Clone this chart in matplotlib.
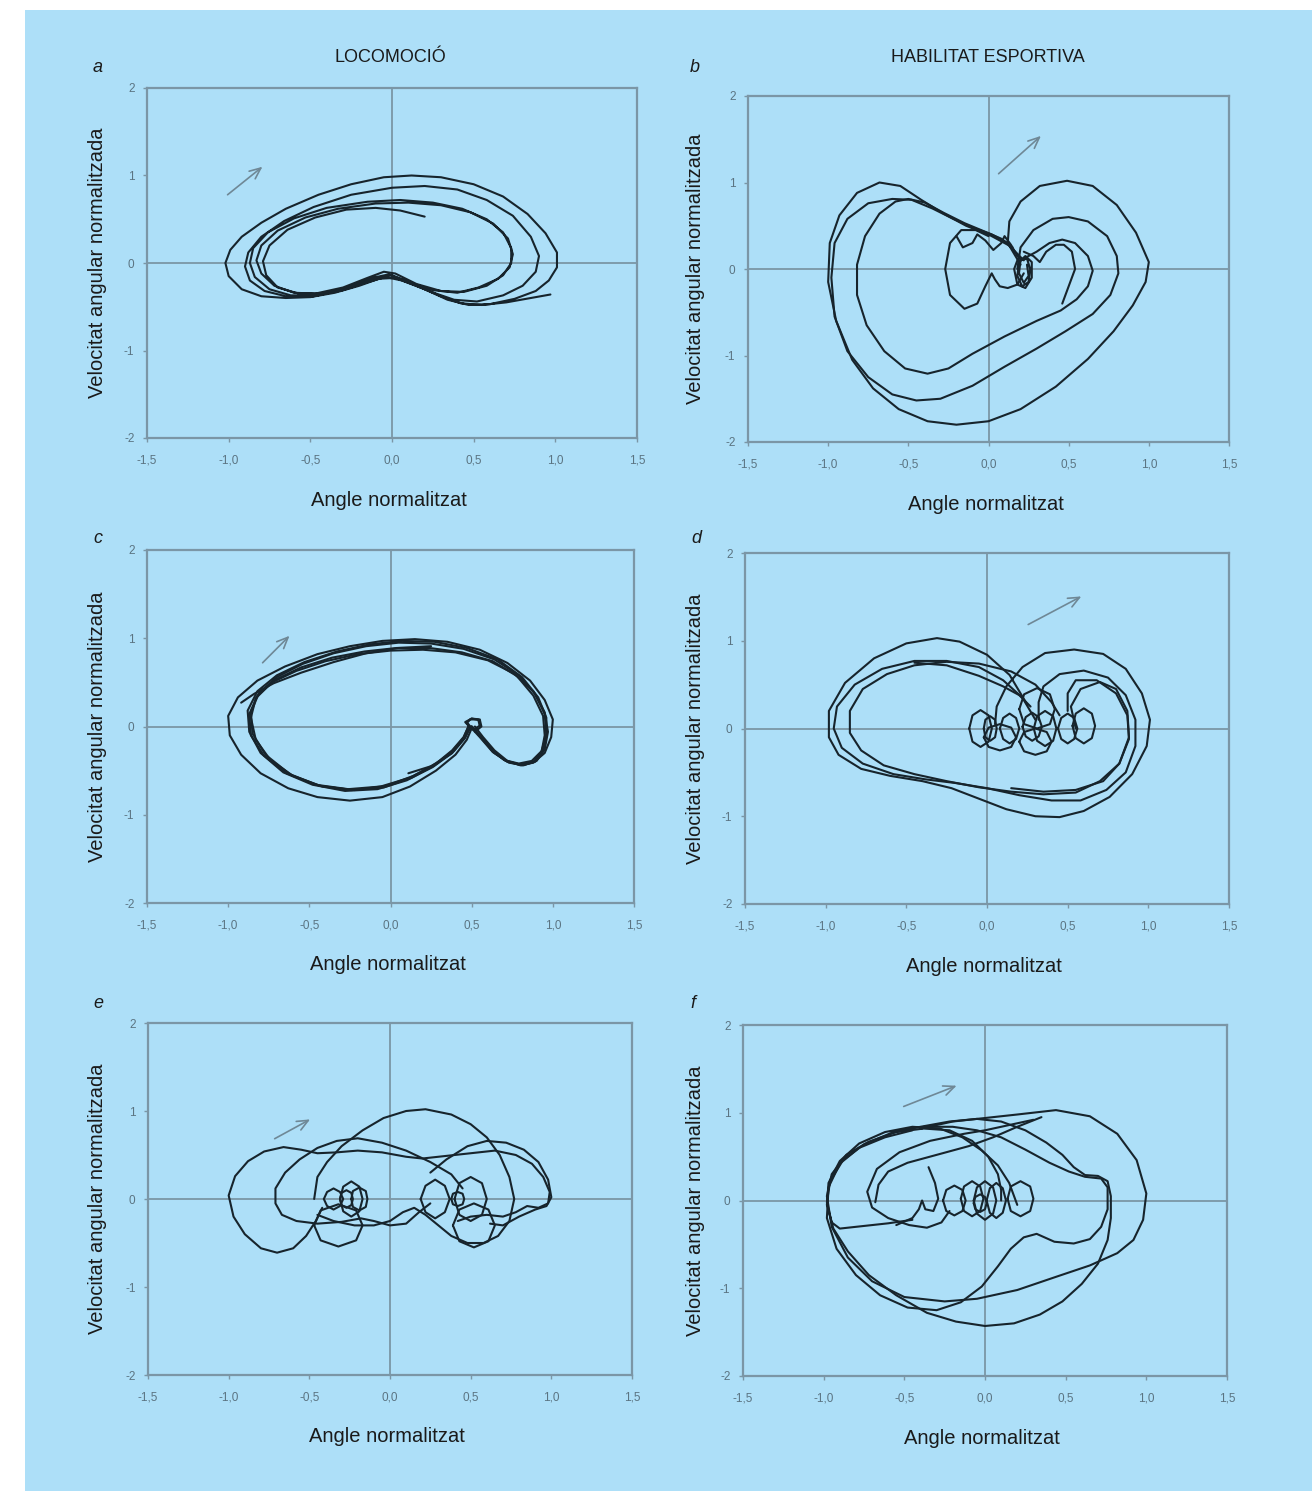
import numpy as np
import matplotlib
matplotlib.use('Agg')
import matplotlib.pyplot as plt
from matplotlib.patches import Rectangle

# Diagrames de fase: angle normalitzat vs velocitat angular normalitzada
# Cada panell es una llista de traces (llistes de punts (x, y)) llegides de la figura

# a) locomocio
traces_a = [
    [(0.97, -0.36), (0.85, -0.40), (0.7, -0.45), (0.55, -0.48), (0.42, -0.46), (0.3, -0.38), (0.15, -0.26),
     (0.02, -0.17), (-0.08, -0.18), (-0.2, -0.26), (-0.35, -0.34), (-0.5, -0.39), (-0.65, -0.40), (-0.8, -0.38),
     (-0.92, -0.3), (-1.0, -0.15), (-1.02, 0.0), (-0.99, 0.15), (-0.92, 0.3), (-0.8, 0.46), (-0.65, 0.62),
     (-0.45, 0.78), (-0.25, 0.9), (-0.05, 0.98), (0.12, 1.0), (0.3, 0.98), (0.5, 0.9), (0.68, 0.76), (0.83, 0.56),
     (0.94, 0.34), (1.01, 0.12), (1.01, -0.05), (0.96, -0.2), (0.88, -0.32), (0.75, -0.41), (0.6, -0.47),
     (0.47, -0.48), (0.34, -0.42), (0.2, -0.3), (0.06, -0.2), (-0.04, -0.16), (-0.15, -0.22), (-0.3, -0.31),
     (-0.48, -0.38), (-0.65, -0.38), (-0.78, -0.32), (-0.87, -0.2), (-0.9, -0.04), (-0.88, 0.12), (-0.8, 0.3),
     (-0.66, 0.48), (-0.48, 0.64), (-0.25, 0.78), (0.0, 0.86), (0.2, 0.88), (0.4, 0.84), (0.58, 0.72),
     (0.74, 0.54), (0.85, 0.3), (0.9, 0.08), (0.88, -0.1), (0.8, -0.26), (0.68, -0.37), (0.52, -0.44),
     (0.38, -0.42), (0.24, -0.33), (0.1, -0.22), (-0.02, -0.13), (-0.12, -0.17), (-0.28, -0.29), (-0.46, -0.37),
     (-0.62, -0.37), (-0.75, -0.3), (-0.84, -0.16), (-0.87, 0.0), (-0.85, 0.17), (-0.76, 0.35), (-0.6, 0.51),
     (-0.4, 0.63), (-0.15, 0.7), (0.05, 0.72), (0.25, 0.69), (0.43, 0.62), (0.58, 0.5), (0.68, 0.35),
     (0.73, 0.17), (0.73, 0.0), (0.68, -0.14), (0.58, -0.26), (0.44, -0.33), (0.3, -0.32), (0.15, -0.24),
     (0.02, -0.12), (-0.05, -0.1), (-0.15, -0.17), (-0.3, -0.28), (-0.47, -0.35), (-0.6, -0.34), (-0.72, -0.26),
     (-0.8, -0.12), (-0.83, 0.03), (-0.8, 0.2), (-0.7, 0.37), (-0.53, 0.52), (-0.33, 0.62), (-0.1, 0.68),
     (0.1, 0.69), (0.3, 0.66), (0.48, 0.58), (0.62, 0.45), (0.71, 0.28), (0.74, 0.1), (0.72, -0.05),
     (0.65, -0.18), (0.53, -0.28), (0.4, -0.34), (0.25, -0.31), (0.12, -0.23), (0.0, -0.14), (-0.1, -0.17),
     (-0.25, -0.27), (-0.42, -0.35), (-0.57, -0.35), (-0.7, -0.28), (-0.77, -0.14), (-0.79, 0.02), (-0.75, 0.2),
     (-0.64, 0.38), (-0.47, 0.52), (-0.28, 0.61), (-0.1, 0.63), (0.05, 0.6), (0.2, 0.53)],
]

# b) habilitat esportiva
traces_b = [
    [(0.2, 0.05), (0.12, 0.3), (0.13, 0.55), (0.2, 0.78), (0.32, 0.96), (0.49, 1.02), (0.65, 0.96), (0.8, 0.74),
     (0.92, 0.42), (1.0, 0.08), (0.98, -0.15), (0.9, -0.42), (0.78, -0.72), (0.62, -1.04), (0.42, -1.36),
     (0.2, -1.62), (0.0, -1.76), (-0.2, -1.8), (-0.38, -1.76), (-0.56, -1.62), (-0.72, -1.38), (-0.85, -1.05),
     (-0.95, -0.6), (-1.0, -0.15), (-0.99, 0.3), (-0.93, 0.62), (-0.82, 0.88), (-0.68, 1.0), (-0.55, 0.96),
     (-0.42, 0.8), (-0.28, 0.64), (-0.14, 0.5), (0.01, 0.39), (0.13, 0.27), (0.22, 0.1)],
    [(0.18, 0.0), (0.2, 0.25), (0.28, 0.45), (0.4, 0.58), (0.5, 0.6), (0.62, 0.55), (0.74, 0.38), (0.8, 0.15),
     (0.81, -0.05), (0.76, -0.3), (0.65, -0.52), (0.48, -0.72), (0.3, -0.92), (0.1, -1.13), (-0.1, -1.35),
     (-0.3, -1.5), (-0.45, -1.52), (-0.6, -1.45), (-0.75, -1.25), (-0.88, -0.95), (-0.96, -0.55), (-0.98, -0.1),
     (-0.96, 0.3), (-0.88, 0.58), (-0.75, 0.76), (-0.6, 0.81), (-0.48, 0.8), (-0.35, 0.7), (-0.22, 0.58),
     (-0.1, 0.48), (0.02, 0.4), (0.12, 0.3), (0.2, 0.12)],
    [(0.2, 0.1), (0.3, 0.2), (0.38, 0.3), (0.46, 0.34), (0.54, 0.3), (0.62, 0.15), (0.65, -0.02), (0.62, -0.2),
     (0.55, -0.35), (0.45, -0.48), (0.3, -0.6), (0.1, -0.78), (-0.1, -0.98), (-0.25, -1.15), (-0.38, -1.21),
     (-0.52, -1.15), (-0.65, -0.95), (-0.76, -0.65), (-0.82, -0.3), (-0.82, 0.05), (-0.77, 0.38), (-0.68, 0.64),
     (-0.58, 0.78), (-0.5, 0.81), (-0.4, 0.77), (-0.28, 0.65), (-0.15, 0.53), (-0.02, 0.43), (0.08, 0.35),
     (0.15, 0.25)],
    [(0.46, -0.4), (0.5, -0.2), (0.54, 0.0), (0.52, 0.2), (0.47, 0.28), (0.42, 0.28), (0.36, 0.2), (0.32, 0.08),
     (0.28, 0.15), (0.22, 0.2)],
    [(0.0, 0.38), (-0.08, 0.45), (-0.17, 0.45), (-0.24, 0.3), (-0.27, 0.0), (-0.24, -0.3), (-0.15, -0.46),
     (-0.07, -0.4), (-0.02, -0.2), (0.02, -0.05), (0.04, -0.12), (0.07, -0.2), (0.12, -0.22), (0.18, -0.18),
     (0.22, -0.05)],
    [(-0.2, 0.38), (-0.16, 0.25), (-0.1, 0.3), (-0.07, 0.4), (-0.02, 0.33), (0.03, 0.22), (0.08, 0.3),
     (0.1, 0.38), (0.14, 0.28), (0.18, 0.15)],
    [(0.19, 0.15), (0.16, 0.0), (0.18, -0.18), (0.23, -0.22), (0.27, -0.1), (0.27, 0.08), (0.23, 0.15),
     (0.19, 0.08), (0.18, -0.08), (0.21, -0.2), (0.25, -0.15), (0.26, 0.0), (0.24, 0.12), (0.2, 0.1),
     (0.19, -0.05), (0.22, -0.16), (0.25, -0.08), (0.24, 0.05)],
]

# c) locomocio
traces_c = [
    [(0.52, 0.0), (0.57, -0.12), (0.64, -0.27), (0.72, -0.39), (0.8, -0.44), (0.88, -0.41), (0.95, -0.3),
     (0.99, -0.12), (1.0, 0.08), (0.95, 0.3), (0.86, 0.52), (0.72, 0.72), (0.55, 0.87), (0.35, 0.96), (0.15, 0.99),
     (-0.05, 0.97), (-0.25, 0.91), (-0.45, 0.82), (-0.65, 0.68), (-0.82, 0.52), (-0.94, 0.33), (-1.0, 0.12),
     (-0.99, -0.1), (-0.92, -0.32), (-0.8, -0.53), (-0.63, -0.7), (-0.45, -0.8), (-0.25, -0.84), (-0.05, -0.8),
     (0.12, -0.68), (0.28, -0.5), (0.4, -0.32), (0.47, -0.15), (0.5, -0.02), (0.47, 0.05), (0.5, 0.09),
     (0.55, 0.08), (0.56, 0.0), (0.52, -0.06)],
    [(0.5, 0.0), (0.55, -0.11), (0.62, -0.26), (0.7, -0.38), (0.79, -0.42), (0.87, -0.39), (0.93, -0.28),
     (0.96, -0.1), (0.96, 0.1), (0.91, 0.33), (0.81, 0.56), (0.66, 0.76), (0.47, 0.89), (0.27, 0.96), (0.07, 0.97),
     (-0.13, 0.93), (-0.33, 0.85), (-0.53, 0.73), (-0.7, 0.58), (-0.82, 0.4), (-0.88, 0.18), (-0.87, -0.06),
     (-0.8, -0.3), (-0.66, -0.52), (-0.48, -0.66), (-0.28, -0.73), (-0.08, -0.71), (0.1, -0.61), (0.26, -0.46),
     (0.38, -0.3), (0.45, -0.14), (0.49, -0.02), (0.47, 0.04), (0.49, 0.08), (0.54, 0.08), (0.55, 0.01),
     (0.51, -0.04)],
    [(0.5, 0.0), (0.56, -0.12), (0.63, -0.28), (0.71, -0.39), (0.8, -0.43), (0.88, -0.4), (0.93, -0.29),
     (0.95, -0.1), (0.94, 0.12), (0.88, 0.35), (0.78, 0.57), (0.63, 0.74), (0.44, 0.84), (0.24, 0.89), (0.04, 0.89),
     (-0.16, 0.85), (-0.36, 0.78), (-0.55, 0.67), (-0.71, 0.53), (-0.82, 0.35), (-0.87, 0.14), (-0.86, -0.1),
     (-0.78, -0.33), (-0.64, -0.53), (-0.46, -0.66), (-0.26, -0.71), (-0.06, -0.68), (0.12, -0.58), (0.27, -0.44),
     (0.39, -0.28), (0.46, -0.13), (0.49, -0.01), (0.46, 0.05), (0.5, 0.09), (0.55, 0.07), (0.55, 0.0)],
    [(0.5, 0.0), (0.56, -0.13), (0.64, -0.3), (0.73, -0.41), (0.82, -0.44), (0.9, -0.39), (0.95, -0.26),
     (0.97, -0.06), (0.95, 0.16), (0.88, 0.4), (0.76, 0.6), (0.6, 0.75), (0.4, 0.84), (0.2, 0.87), (0.0, 0.86),
     (-0.2, 0.82), (-0.4, 0.74), (-0.58, 0.63), (-0.73, 0.5), (-0.83, 0.32), (-0.86, 0.1), (-0.83, -0.15),
     (-0.74, -0.38), (-0.6, -0.56), (-0.42, -0.68), (-0.22, -0.72), (-0.02, -0.67), (0.14, -0.56), (0.28, -0.42),
     (0.38, -0.27), (0.45, -0.12), (0.48, 0.0)],
    [(0.49, 0.0), (0.55, -0.12), (0.63, -0.29), (0.72, -0.4), (0.81, -0.44), (0.89, -0.4), (0.94, -0.28),
     (0.96, -0.08), (0.95, 0.14), (0.89, 0.37), (0.79, 0.58), (0.64, 0.76), (0.45, 0.88), (0.25, 0.94),
     (0.05, 0.95), (-0.15, 0.91), (-0.35, 0.83), (-0.54, 0.71), (-0.7, 0.56), (-0.81, 0.38), (-0.86, 0.16),
     (-0.85, -0.08), (-0.77, -0.32), (-0.62, -0.54), (-0.44, -0.67), (-0.24, -0.72), (-0.04, -0.69),
     (0.13, -0.58), (0.27, -0.44), (0.38, -0.28), (0.45, -0.13), (0.48, 0.0)],
    [(-0.92, 0.27), (-0.84, 0.37), (-0.72, 0.49), (-0.55, 0.61), (-0.35, 0.73), (-0.15, 0.83), (0.05, 0.89),
     (0.25, 0.91)],
    [(0.11, -0.53), (0.25, -0.45), (0.38, -0.3)],
]

# d) habilitat esportiva
traces_d = [
    [(0.25, 0.27), (0.14, 0.61), (0.0, 0.84), (-0.17, 0.99), (-0.31, 1.03), (-0.5, 0.97), (-0.7, 0.8),
     (-0.88, 0.52), (-0.98, 0.2), (-0.98, -0.1), (-0.92, -0.3), (-0.78, -0.46), (-0.6, -0.54), (-0.4, -0.6),
     (-0.22, -0.68), (-0.05, -0.8), (0.12, -0.92), (0.3, -1.0), (0.45, -1.01), (0.6, -0.94), (0.76, -0.78),
     (0.9, -0.52), (0.99, -0.2), (1.01, 0.1), (0.96, 0.4), (0.86, 0.68), (0.72, 0.85), (0.54, 0.9), (0.36, 0.86),
     (0.22, 0.7), (0.12, 0.48), (0.06, 0.25), (0.05, 0.05)],
    [(0.3, 0.1), (0.22, 0.35), (0.1, 0.55), (-0.05, 0.7), (-0.25, 0.77), (-0.45, 0.77), (-0.65, 0.68),
     (-0.82, 0.5), (-0.93, 0.25), (-0.95, 0.0), (-0.9, -0.22), (-0.77, -0.4), (-0.58, -0.52), (-0.38, -0.58),
     (-0.2, -0.62), (0.0, -0.68), (0.2, -0.76), (0.4, -0.82), (0.58, -0.82), (0.74, -0.7), (0.86, -0.5),
     (0.92, -0.2), (0.92, 0.1), (0.86, 0.38), (0.75, 0.58), (0.6, 0.66), (0.45, 0.62), (0.35, 0.48), (0.32, 0.3),
     (0.32, 0.1)],
    [(0.45, 0.15), (0.4, 0.3), (0.3, 0.5), (0.15, 0.65), (-0.05, 0.74), (-0.25, 0.76), (-0.45, 0.72),
     (-0.62, 0.62), (-0.77, 0.45), (-0.85, 0.2), (-0.85, -0.05), (-0.78, -0.25), (-0.64, -0.42), (-0.45, -0.52),
     (-0.25, -0.6), (-0.05, -0.67), (0.15, -0.72), (0.35, -0.75), (0.55, -0.73), (0.7, -0.6), (0.82, -0.4),
     (0.88, -0.12), (0.87, 0.15), (0.8, 0.4), (0.68, 0.55), (0.55, 0.55), (0.5, 0.4), (0.5, 0.2)],
    [(0.55, 0.0), (0.52, 0.25), (0.58, 0.45), (0.7, 0.53), (0.8, 0.45), (0.87, 0.2), (0.88, -0.1), (0.82, -0.4),
     (0.72, -0.6), (0.55, -0.7), (0.35, -0.72), (0.15, -0.68)],
    [(-0.45, 0.75), (-0.25, 0.72), (-0.05, 0.6), (0.1, 0.48), (0.2, 0.38), (0.27, 0.25)],
    [(-0.11, 0.0), (-0.09, 0.15), (-0.04, 0.21), (0.01, 0.15), (0.03, 0.0), (0.01, -0.15), (-0.04, -0.21),
     (-0.09, -0.15), (-0.11, 0.0)],
    [(-0.02, 0.0), (-0.01, 0.1), (0.02, 0.14), (0.05, 0.1), (0.06, 0.0), (0.05, -0.1), (0.02, -0.14),
     (-0.01, -0.1), (-0.02, 0.0)],
    [(0.08, 0.0), (0.1, 0.12), (0.14, 0.17), (0.18, 0.12), (0.2, 0.0), (0.18, -0.12), (0.14, -0.17),
     (0.1, -0.12), (0.08, 0.0)],
    [(0.22, 0.02), (0.24, 0.13), (0.28, 0.18), (0.32, 0.13), (0.34, 0.02), (0.32, -0.09), (0.28, -0.14),
     (0.24, -0.09), (0.22, 0.02)],
    [(0.29, 0.0), (0.31, 0.14), (0.36, 0.2), (0.41, 0.14), (0.43, 0.0), (0.41, -0.14), (0.36, -0.2),
     (0.31, -0.14), (0.29, 0.0)],
    [(0.44, 0.0), (0.46, 0.12), (0.5, 0.17), (0.54, 0.12), (0.56, 0.0), (0.54, -0.12), (0.5, -0.17),
     (0.46, -0.12), (0.44, 0.0)],
    [(0.53, 0.03), (0.55, 0.17), (0.6, 0.23), (0.65, 0.17), (0.67, 0.03), (0.65, -0.11), (0.6, -0.17),
     (0.55, -0.11), (0.53, 0.03)],
    [(0.2, -0.15), (0.23, -0.04), (0.3, 0.0), (0.37, -0.04), (0.4, -0.15), (0.37, -0.26), (0.3, -0.3),
     (0.23, -0.26), (0.2, -0.15)],
    [(0.2, 0.22), (0.23, 0.39), (0.31, 0.46), (0.39, 0.39), (0.42, 0.22), (0.39, 0.05), (0.31, 0.0),
     (0.23, 0.05), (0.2, 0.22)],
    [(-0.02, -0.1), (0.01, 0.01), (0.08, 0.05), (0.15, 0.01), (0.18, -0.1), (0.15, -0.21), (0.08, -0.25),
     (0.01, -0.21), (-0.02, -0.1)],
]

# e) locomocio
traces_e = [
    [(-0.47, 0.0), (-0.45, 0.25), (-0.39, 0.42), (-0.3, 0.6), (-0.17, 0.78), (-0.04, 0.92), (0.1, 1.0),
     (0.22, 1.02), (0.38, 0.96), (0.5, 0.85), (0.6, 0.7), (0.68, 0.5), (0.74, 0.25), (0.77, 0.0), (0.74, -0.25),
     (0.67, -0.42), (0.58, -0.5), (0.48, -0.5), (0.38, -0.42), (0.3, -0.3), (0.22, -0.18), (0.15, -0.1),
     (0.08, -0.15), (0.0, -0.25), (-0.1, -0.3), (-0.22, -0.3), (-0.35, -0.25), (-0.45, -0.18)],
    [(-0.42, -0.1), (-0.46, -0.25), (-0.52, -0.42), (-0.6, -0.56), (-0.7, -0.61), (-0.8, -0.56), (-0.9, -0.4),
     (-0.97, -0.2), (-1.0, 0.04), (-0.96, 0.26), (-0.88, 0.43), (-0.78, 0.54), (-0.66, 0.59), (-0.55, 0.56),
     (-0.45, 0.52), (-0.33, 0.53), (-0.2, 0.55), (-0.05, 0.53), (0.1, 0.48), (0.2, 0.46), (0.35, 0.49),
     (0.5, 0.52), (0.65, 0.55), (0.78, 0.5), (0.88, 0.4), (0.95, 0.25), (0.99, 0.08), (0.98, -0.05),
     (0.92, -0.1), (0.85, -0.08), (0.78, -0.15), (0.7, -0.2), (0.6, -0.18), (0.5, -0.2), (0.42, -0.25)],
    [(0.45, 0.12), (0.38, 0.28), (0.25, 0.42), (0.1, 0.55), (-0.05, 0.64), (-0.2, 0.69), (-0.33, 0.66),
     (-0.45, 0.58), (-0.56, 0.45), (-0.65, 0.3), (-0.71, 0.12), (-0.71, -0.05), (-0.67, -0.18), (-0.58, -0.25),
     (-0.45, -0.28), (-0.3, -0.26), (-0.18, -0.22), (-0.1, -0.25), (0.0, -0.3), (0.1, -0.28), (0.18, -0.15),
     (0.25, -0.05)],
    [(0.25, 0.3), (0.35, 0.45), (0.48, 0.6), (0.6, 0.66), (0.72, 0.64), (0.83, 0.56), (0.92, 0.42), (0.98, 0.22),
     (1.0, 0.02), (0.97, -0.08), (0.9, -0.12), (0.8, -0.2), (0.7, -0.3), (0.62, -0.28)],
    [(-0.41, 0.0), (-0.39, 0.08), (-0.35, 0.12), (-0.31, 0.08), (-0.29, 0.0), (-0.31, -0.08), (-0.35, -0.12),
     (-0.39, -0.08), (-0.41, 0.0)],
    [(-0.31, 0.0), (-0.29, 0.14), (-0.24, 0.2), (-0.19, 0.14), (-0.17, 0.0), (-0.19, -0.14), (-0.24, -0.2),
     (-0.29, -0.14), (-0.31, 0.0)],
    [(-0.24, 0.0), (-0.23, 0.09), (-0.19, 0.13), (-0.15, 0.09), (-0.14, 0.0), (-0.15, -0.09), (-0.19, -0.13),
     (-0.23, -0.09), (-0.24, 0.0)],
    [(-0.31, 0.0), (-0.3, 0.07), (-0.27, 0.1), (-0.24, 0.07), (-0.23, 0.0), (-0.24, -0.07), (-0.27, -0.1),
     (-0.3, -0.07), (-0.31, 0.0)],
    [(-0.47, -0.3), (-0.43, -0.13), (-0.32, -0.06), (-0.21, -0.13), (-0.17, -0.3), (-0.21, -0.47), (-0.32, -0.54),
     (-0.43, -0.47), (-0.47, -0.3)],
    [(0.19, 0.0), (0.22, 0.15), (0.28, 0.22), (0.34, 0.15), (0.37, 0.0), (0.34, -0.15), (0.28, -0.22),
     (0.22, -0.15), (0.19, 0.0)],
    [(0.4, 0.0), (0.43, 0.18), (0.5, 0.25), (0.57, 0.18), (0.6, 0.0), (0.57, -0.18), (0.5, -0.25), (0.43, -0.18),
     (0.4, 0.0)],
    [(0.38, 0.0), (0.39, 0.06), (0.42, 0.08), (0.45, 0.06), (0.46, 0.0), (0.45, -0.06), (0.42, -0.08),
     (0.39, -0.06), (0.38, 0.0)],
    [(0.39, -0.3), (0.43, -0.12), (0.52, -0.05), (0.61, -0.12), (0.65, -0.3), (0.61, -0.48), (0.52, -0.55),
     (0.43, -0.48), (0.39, -0.3)],
]

# f) habilitat esportiva
traces_f = [
    [(0.2, -0.05), (0.15, 0.2), (0.08, 0.4), (-0.02, 0.57), (-0.14, 0.72), (-0.28, 0.82), (-0.45, 0.84),
     (-0.62, 0.78), (-0.78, 0.65), (-0.9, 0.45), (-0.97, 0.2), (-0.98, -0.05), (-0.94, -0.32), (-0.85, -0.58),
     (-0.72, -0.85), (-0.55, -1.08), (-0.36, -1.28), (-0.18, -1.38), (0.0, -1.43), (0.18, -1.4), (0.34, -1.3),
     (0.48, -1.15), (0.6, -0.95), (0.7, -0.72), (0.76, -0.45), (0.78, -0.2), (0.78, 0.05), (0.76, 0.22),
     (0.7, 0.28), (0.62, 0.29), (0.55, 0.38), (0.48, 0.52), (0.38, 0.66), (0.25, 0.8), (0.1, 0.9), (-0.05, 0.93),
     (-0.22, 0.9), (-0.4, 0.84), (-0.58, 0.77), (-0.75, 0.64), (-0.88, 0.46), (-0.96, 0.22), (-0.98, -0.02),
     (-0.95, -0.25), (-0.9, -0.32), (-0.75, -0.29), (-0.6, -0.26), (-0.45, -0.22)],
    [(-0.4, 0.82), (-0.2, 0.9), (0.0, 0.94), (0.2, 0.98), (0.44, 1.03), (0.65, 0.96), (0.82, 0.76), (0.94, 0.46),
     (1.0, 0.08), (0.98, -0.22), (0.92, -0.45), (0.82, -0.6), (0.65, -0.74), (0.44, -0.87), (0.2, -1.02),
     (-0.05, -1.12), (-0.25, -1.15), (-0.5, -1.1), (-0.7, -0.92), (-0.85, -0.65), (-0.95, -0.3), (-0.98, 0.05),
     (-0.95, 0.3), (-0.86, 0.52), (-0.72, 0.67), (-0.55, 0.78), (-0.38, 0.82), (-0.22, 0.8), (-0.08, 0.68),
     (0.02, 0.5), (0.08, 0.3), (0.1, 0.12), (0.1, 0.0)],
    [(-0.38, 0.84), (-0.2, 0.84), (-0.05, 0.8), (0.1, 0.72), (0.25, 0.58), (0.4, 0.43), (0.52, 0.33),
     (0.62, 0.27), (0.72, 0.25), (0.76, 0.15), (0.76, -0.1), (0.72, -0.3), (0.65, -0.44), (0.55, -0.49),
     (0.43, -0.47), (0.32, -0.38), (0.24, -0.42), (0.16, -0.55), (0.08, -0.75), (-0.02, -0.98), (-0.15, -1.16),
     (-0.3, -1.25), (-0.48, -1.22), (-0.65, -1.08), (-0.8, -0.85), (-0.92, -0.55), (-0.98, -0.2), (-0.97, 0.15),
     (-0.9, 0.42), (-0.78, 0.6), (-0.62, 0.72), (-0.45, 0.8)],
    [(0.3, 0.92), (0.15, 0.86), (0.0, 0.8), (-0.13, 0.76), (-0.34, 0.68), (-0.53, 0.55), (-0.67, 0.36),
     (-0.73, 0.1), (-0.7, -0.08), (-0.6, -0.2), (-0.47, -0.28), (-0.36, -0.31), (-0.27, -0.25), (-0.22, -0.12)],
    [(-0.68, -0.02), (-0.66, 0.18), (-0.6, 0.33), (-0.48, 0.43), (-0.3, 0.52), (-0.1, 0.62), (0.05, 0.72),
     (0.2, 0.84), (0.35, 0.95)],
    [(-0.35, 0.38), (-0.31, 0.2), (-0.29, 0.02), (-0.32, -0.12), (-0.37, -0.1), (-0.39, 0.0), (-0.41, -0.1),
     (-0.45, -0.2), (-0.55, -0.28)],
    [(-0.26, 0.0), (-0.24, 0.12), (-0.19, 0.17), (-0.14, 0.12), (-0.12, 0.0), (-0.14, -0.12), (-0.19, -0.17),
     (-0.24, -0.12), (-0.26, 0.0)],
    [(-0.15, 0.02), (-0.13, 0.16), (-0.08, 0.22), (-0.03, 0.16), (-0.01, 0.02), (-0.03, -0.12), (-0.08, -0.18),
     (-0.13, -0.12), (-0.15, 0.02)],
    [(-0.07, 0.0), (-0.05, 0.15), (0.0, 0.22), (0.05, 0.15), (0.07, 0.0), (0.05, -0.15), (0.0, -0.22),
     (-0.05, -0.15), (-0.07, 0.0)],
    [(0.01, 0.0), (0.03, 0.14), (0.07, 0.2), (0.11, 0.14), (0.13, 0.0), (0.11, -0.14), (0.07, -0.2),
     (0.03, -0.14), (0.01, 0.0)],
    [(0.14, 0.02), (0.16, 0.16), (0.22, 0.22), (0.28, 0.16), (0.3, 0.02), (0.28, -0.12), (0.22, -0.18),
     (0.16, -0.12), (0.14, 0.02)],
    [(-0.07, -0.03), (-0.06, 0.04), (-0.03, 0.07), (0.0, 0.04), (0.01, -0.03), (0.0, -0.1), (-0.03, -0.13),
     (-0.06, -0.1), (-0.07, -0.03)],
]

# fletxes del sentit de gir (cua, cap)
arrows = {
    'a': ((-1.02, 0.76), (-0.78, 1.12)),
    'b': ((0.05, 1.08), (0.34, 1.56)),
    'c': ((-0.8, 0.7), (-0.61, 1.05)),
    'd': ((0.24, 1.17), (0.6, 1.52)),
    'e': ((-0.73, 0.67), (-0.48, 0.92)),
    'f': ((-0.52, 1.06), (-0.16, 1.32)),
}

x_ticks = [-1.5, -1.0, -0.5, 0.0, 0.5, 1.0, 1.5]
x_tick_labels = ['-1,5', '-1,0', '-0,5', '0,0', '0,5', '1,0', '1,5']
y_ticks = [-2, -1, 0, 1, 2]
y_tick_labels = ['-2', '-1', '0', '1', '2']

W, H = 1312, 1491
bg = '#addff8'
frame_col = '#7b96a6'
tick_col = '#5b7482'
line_col = '#17242c'

plt.rcParams['font.family'] = ['Liberation Sans', 'DejaVu Sans']

fig = plt.figure(figsize=(W / 100, H / 100), dpi=100, facecolor='white')
fig.patches.append(Rectangle((25 / W, 0), 1 - 25 / W, 1 - 10 / H, transform=fig.transFigure,
                             facecolor=bg, edgecolor='none', zorder=-5))

# caixes dels eixos en pixels: (esquerra, dreta, dalt, baix)
boxes = {
    'a': (147, 637, 88, 438),
    'b': (748, 1229, 96, 442),
    'c': (147, 634, 550, 903),
    'd': (745, 1229, 553, 904),
    'e': (148, 632, 1023, 1375),
    'f': (743, 1227, 1025, 1376),
}
letter_pos = {'a': (98, 68), 'b': (695, 68), 'c': (98, 538), 'd': (696, 538), 'e': (98, 1004), 'f': (693, 1004)}
panel_data = {'a': traces_a, 'b': traces_b, 'c': traces_c, 'd': traces_d, 'e': traces_e, 'f': traces_f}

for key, (l, r, t, b) in boxes.items():
    ax = fig.add_axes([l / W, 1 - b / H, (r - l) / W, (b - t) / H])
    ax.set_facecolor(bg)
    ax.set_xlim(-1.5, 1.5)
    ax.set_ylim(-2, 2)
    ax.axhline(0, color=frame_col, lw=1.3, zorder=1)
    ax.axvline(0, color=frame_col, lw=1.3, zorder=1)
    for tr in panel_data[key]:
        pts = np.array(tr)
        ax.plot(pts[:, 0], pts[:, 1], color=line_col, lw=1.5, solid_joinstyle='round',
                solid_capstyle='round', zorder=3)
    (x0, y0), (x1, y1) = arrows[key]
    ax.annotate('', xy=(x1, y1), xytext=(x0, y0),
                arrowprops=dict(arrowstyle='->,head_length=0.8,head_width=0.35', color='#6f8896', lw=1.2))
    ax.set_xticks(x_ticks)
    ax.set_xticklabels(x_tick_labels)
    ax.set_yticks(y_ticks)
    ax.set_yticklabels(y_tick_labels)
    ax.tick_params(direction='out', length=3, width=1, colors=frame_col, labelcolor=tick_col,
                   labelsize=8.5)
    ax.tick_params(axis='x', pad=9)
    ax.tick_params(axis='y', pad=6)
    for sp in ax.spines.values():
        sp.set_color(frame_col)
        sp.set_linewidth(1.6)
    cx = (l + r) / 2
    cy = (t + b) / 2
    lab_x = 98 if l < 400 else 695
    fig.text(lab_x / W, 1 - cy / H, 'Velocitat angular normalitzada', rotation=90,
             ha='center', va='center', fontsize=14.5, color='#1a1a1a')
    fig.text((cx - 3) / W, 1 - (b + 62) / H, 'Angle normalitzat', ha='center', va='center',
             fontsize=14.5, color='#1a1a1a')
    lx, ly = letter_pos[key]
    fig.text(lx / W, 1 - ly / H, key, ha='center', va='center', fontsize=13,
             style='italic', color='#1a1a1a')

fig.text(390 / W, 1 - 58 / H, 'LOCOMOCIÓ', ha='center', va='center', fontsize=13, color='#1a1a1a')
fig.text(988 / W, 1 - 58 / H, 'HABILITAT ESPORTIVA', ha='center', va='center', fontsize=13, color='#1a1a1a')

fig.savefig('out.png', dpi=100, facecolor='white')
